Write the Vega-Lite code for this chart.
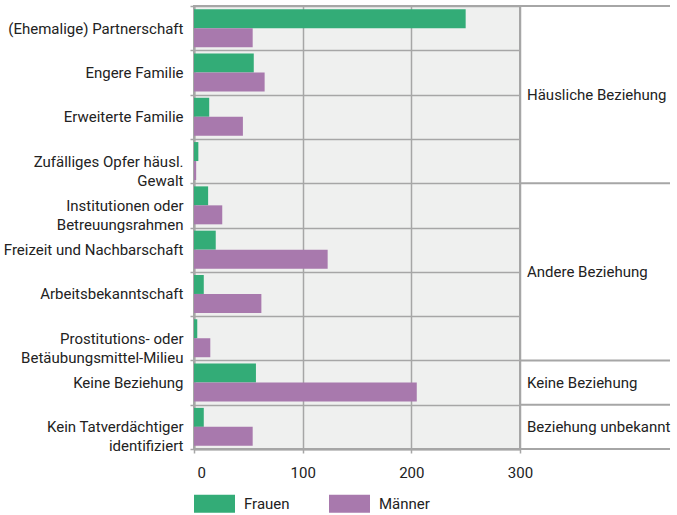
{
  "$schema": "https://vega.github.io/schema/vega-lite/v6.json",
  "padding": {"left": 2, "top": -2, "right": 5, "bottom": 0},
  "background": "white",
  "bounds": "flush",
  "config": {
    "font": "Roboto",
    "concat": {"spacing": 0},
    "axis": {"labelFont": "Roboto", "labelColor": "#222222", "labelFontSize": 15},
    "legend": {"labelFont": "Roboto", "labelColor": "#222222", "labelFontSize": 15}
  },
  "datasets": {
    "werte": [
      {"kategorie": "(Ehemalige) Partnerschaft", "geschlecht": "Frauen", "anzahl": 250},
      {"kategorie": "(Ehemalige) Partnerschaft", "geschlecht": "Männer", "anzahl": 54},
      {"kategorie": "Engere Familie", "geschlecht": "Frauen", "anzahl": 55},
      {"kategorie": "Engere Familie", "geschlecht": "Männer", "anzahl": 65},
      {"kategorie": "Erweiterte Familie", "geschlecht": "Frauen", "anzahl": 14},
      {"kategorie": "Erweiterte Familie", "geschlecht": "Männer", "anzahl": 45},
      {"kategorie": "Zufälliges Opfer häusl.|Gewalt", "geschlecht": "Frauen", "anzahl": 4},
      {"kategorie": "Zufälliges Opfer häusl.|Gewalt", "geschlecht": "Männer", "anzahl": 2},
      {"kategorie": "Institutionen oder|Betreuungsrahmen", "geschlecht": "Frauen", "anzahl": 13},
      {"kategorie": "Institutionen oder|Betreuungsrahmen", "geschlecht": "Männer", "anzahl": 26},
      {"kategorie": "Freizeit und Nachbarschaft", "geschlecht": "Frauen", "anzahl": 20},
      {"kategorie": "Freizeit und Nachbarschaft", "geschlecht": "Männer", "anzahl": 123},
      {"kategorie": "Arbeitsbekanntschaft", "geschlecht": "Frauen", "anzahl": 9},
      {"kategorie": "Arbeitsbekanntschaft", "geschlecht": "Männer", "anzahl": 62},
      {"kategorie": "Prostitutions- oder|Betäubungsmittel-Milieu", "geschlecht": "Frauen", "anzahl": 3},
      {"kategorie": "Prostitutions- oder|Betäubungsmittel-Milieu", "geschlecht": "Männer", "anzahl": 15},
      {"kategorie": "Keine Beziehung", "geschlecht": "Frauen", "anzahl": 57},
      {"kategorie": "Keine Beziehung", "geschlecht": "Männer", "anzahl": 205},
      {"kategorie": "Kein Tatverdächtiger|identifiziert", "geschlecht": "Frauen", "anzahl": 9},
      {"kategorie": "Kein Tatverdächtiger|identifiziert", "geschlecht": "Männer", "anzahl": 54}
    ],
    "gruppen": [
      {"gruppe": "Häusliche Beziehung", "mitte": 2},
      {"gruppe": "Andere Beziehung", "mitte": 6},
      {"gruppe": "Keine Beziehung", "mitte": 8.5},
      {"gruppe": "Beziehung unbekannt", "mitte": 9.5}
    ],
    "grenzen": [
      {"grenze": 0}, {"grenze": 4}, {"grenze": 8}, {"grenze": 9}, {"grenze": 10}
    ]
  },
  "hconcat": [
    {
      "width": 326,
      "height": 443,
      "view": {"fill": "#eff0ef", "stroke": "#a6a6a6", "strokeWidth": 2},
      "data": {"name": "werte"},
      "mark": {"type": "bar"},
      "encoding": {
        "y": {
          "field": "kategorie",
          "type": "nominal",
          "sort": null,
          "scale": {"paddingInner": 0, "paddingOuter": 0},
          "axis": {
            "title": null,
            "tickBand": "extent",
            "grid": true,
            "gridColor": "#a6a6a6",
            "gridWidth": 1.5,
            "gridOpacity": 1,
            "domainColor": "#a6a6a6",
            "domainWidth": 2,
            "tickColor": "#a6a6a6",
            "tickWidth": 1.5,
            "tickSize": 4,
            "labelPadding": 7,
            "labelLineHeight": 19,
            "labelLimit": 0,
            "minExtent": 189,
            "maxExtent": 189,
            "labelExpr": "split(datum.label, '|')"
          }
        },
        "yOffset": {"field": "geschlecht", "type": "nominal", "sort": ["Frauen", "Männer"], "scale": {"paddingInner": 0, "paddingOuter": 0.167}},
        "x": {
          "field": "anzahl",
          "type": "quantitative",
          "scale": {"domain": [0, 300], "nice": false},
          "axis": {
            "title": null,
            "values": [0, 100, 200, 300],
            "grid": true,
            "gridColor": "#a6a6a6",
            "gridWidth": 1.5,
            "gridOpacity": 1,
            "domainColor": "#a6a6a6",
            "domainWidth": 2,
            "tickColor": "#a6a6a6",
            "tickWidth": 1.5,
            "tickSize": 4,
            "labelPadding": 12,
            "labelAlign": {"condition": {"test": "datum.value == 0", "value": "left"}, "value": "center"},
            "labelOffset": {"condition": {"test": "datum.value == 0", "value": 3}, "value": 0}
          }
        },
        "color": {
          "field": "geschlecht",
          "type": "nominal",
          "scale": {"domain": ["Frauen", "Männer"], "range": ["#33ac77", "#a879ad"]},
          "legend": {
            "title": null,
            "orient": "bottom",
            "direction": "horizontal",
            "symbolType": "M-1,-0.44H1V0.44H-1Z",
            "symbolSize": 1681,
            "symbolStrokeWidth": 0,
            "labelOffset": 9,
            "columnPadding": 39,
            "offset": 2
          }
        }
      }
    },
    {
      "width": 150,
      "height": 443,
      "view": {"stroke": null},
      "layer": [
        {
          "data": {"name": "grenzen"},
          "mark": {"type": "rule", "color": "#a6a6a6", "strokeWidth": 2},
          "encoding": {
            "y": {"field": "grenze", "type": "quantitative", "scale": {"domain": [0, 10], "reverse": true, "nice": false, "zero": false}, "axis": null}
          }
        },
        {
          "data": {"name": "gruppen"},
          "mark": {"type": "text", "align": "left", "baseline": "middle", "fontSize": 15, "color": "#222222"},
          "encoding": {
            "y": {"field": "mitte", "type": "quantitative", "scale": {"domain": [0, 10], "reverse": true, "nice": false, "zero": false}, "axis": null},
            "x": {"value": 7},
            "text": {"field": "gruppe"}
          }
        }
      ]
    }
  ]
}
